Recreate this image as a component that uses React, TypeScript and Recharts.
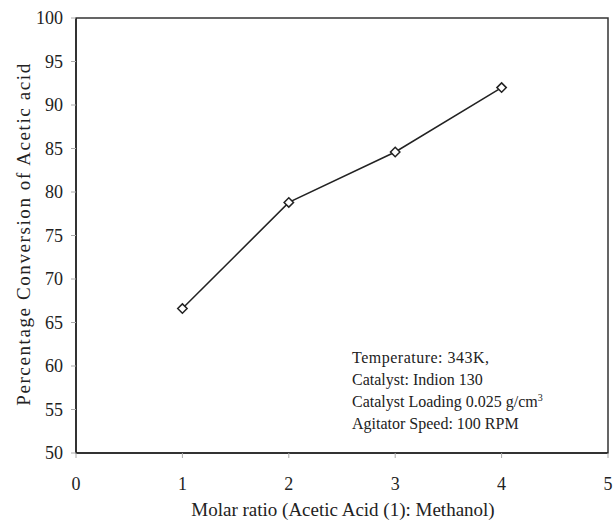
import React from 'react';
import {
  LineChart,
  Line,
  XAxis,
  YAxis,
  ReferenceArea
} from 'recharts';

const molarRatio = [1, 2, 3, 4];
const conversion = [66.6, 78.8, 84.6, 92.0];
const xTicks = [0, 1, 2, 3, 4, 5];
const yTicks = [50, 55, 60, 65, 70, 75, 80, 85, 90, 95, 100];
const notes = [
  'Temperature: 343K,',
  'Catalyst: Indion 130',
  'Catalyst Loading 0.025 g/cm',
  'Agitator Speed: 100 RPM'
];

const data = molarRatio.map((x, i) => ({ x, y: conversion[i] }));

const font = '"Liberation Serif", "DejaVu Serif", serif';

const Diamond = (props: any) => {
  const { cx, cy } = props;
  if (cx == null || cy == null) return null;
  const r = 4.7;
  return (
    <path
      d={`M${cx},${cy - r} L${cx + r},${cy} L${cx},${cy + r} L${cx - r},${cy} Z`}
      fill="#fff"
      stroke="#222"
      strokeWidth={1.5}
    />
  );
};

export default function App() {
  return (
    <div style={{ position: 'absolute', left: 0, top: 0, width: 614, height: 520, background: '#fff', overflow: 'hidden' }}>
      <LineChart
        width={614}
        height={520}
        data={data}
        margin={{ top: 18, right: 6, bottom: 27, left: 0 }}
      >
        <XAxis
          dataKey="x"
          type="number"
          domain={[0, 5]}
          ticks={xTicks}
          height={40}
          axisLine={{ stroke: '#222', strokeWidth: 1.5 }}
          tickLine={{ stroke: '#aaa' }}
          tickSize={5}
          tickMargin={19}
          tick={{ fill: '#222', fontSize: 18, fontFamily: font }}
        />
        <YAxis
          type="number"
          domain={[50, 100]}
          ticks={yTicks}
          width={76}
          axisLine={{ stroke: '#222', strokeWidth: 1.5 }}
          tickLine={{ stroke: '#aaa' }}
          tickSize={5}
          tickMargin={8}
          tick={{ fill: '#222', fontSize: 18, fontFamily: font }}
        />
        <ReferenceArea
          x1={0}
          x2={5}
          y1={50}
          y2={100}
          fill="none"
          stroke="#333"
          strokeWidth={1.5}
          ifOverflow="visible"
        />
        <Line
          dataKey="y"
          stroke="#222"
          strokeWidth={1.5}
          dot={<Diamond />}
          activeDot={false}
          isAnimationActive={false}
        />
      </LineChart>
      <div
        style={{
          position: 'absolute',
          left: 24,
          top: 234,
          transform: 'translate(-50%, -50%) rotate(-90deg)',
          whiteSpace: 'nowrap',
          fontFamily: font,
          fontSize: 19,
          letterSpacing: 1.6,
          color: '#222'
        }}
      >
        Percentage Conversion of Acetic acid
      </div>
      <div
        style={{
          position: 'absolute',
          left: 343,
          top: 510,
          transform: 'translate(-50%, -50%)',
          whiteSpace: 'nowrap',
          fontFamily: font,
          fontSize: 19,
          color: '#222'
        }}
      >
        Molar ratio (Acetic Acid (1): Methanol)
      </div>
      <div
        style={{
          position: 'absolute',
          left: 352,
          top: 347,
          fontFamily: font,
          fontSize: 16,
          lineHeight: '22px',
          color: '#222',
          whiteSpace: 'nowrap'
        }}
      >
        {notes.map((n, i) => (
          <div key={i} style={{ letterSpacing: i === 0 ? 0.5 : 0 }}>
            {n}
            {i === 2 && <sup style={{ fontSize: 10, lineHeight: 0 }}>3</sup>}
          </div>
        ))}
      </div>
    </div>
  );
}
